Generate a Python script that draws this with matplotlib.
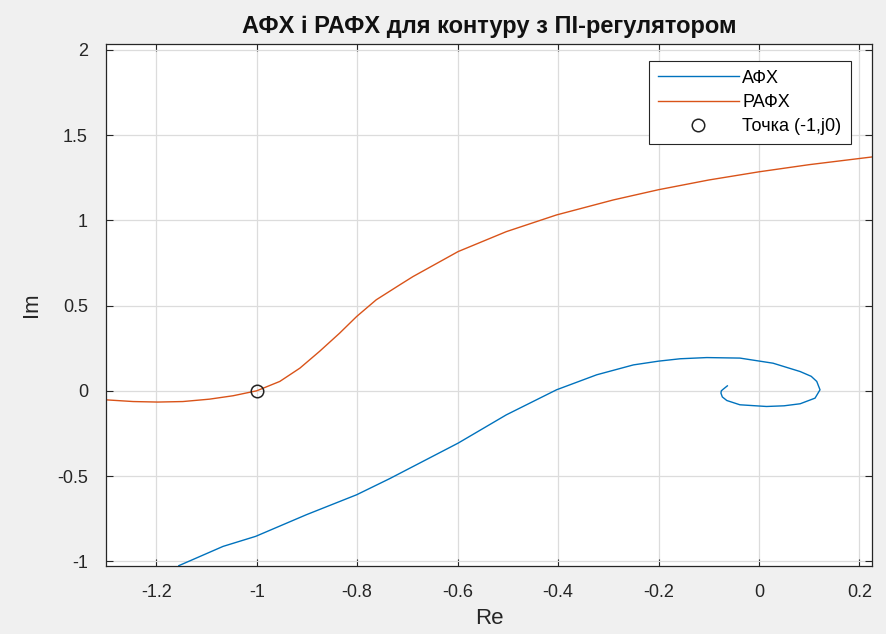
import matplotlib.pyplot as plt
from matplotlib.ticker import FuncFormatter

# AФX (blue) - Re / Im pairs along the hodograph
afh_re = [-1.155, -1.067, -1.002, -0.901, -0.801, -0.735, -0.599, -0.503, -0.403,
          -0.323, -0.250, -0.200, -0.157, -0.104, -0.038, 0.028, 0.082, 0.104, 0.115,
          0.1215, 0.1116, 0.082, 0.050, 0.015, -0.038, -0.064, -0.073, -0.0757,
          -0.075, -0.071, -0.063]
afh_im = [-1.026, -0.913, -0.854, -0.727, -0.610, -0.515, -0.307, -0.141, 0.006,
          0.094, 0.152, 0.174, 0.188, 0.195, 0.192, 0.162, 0.113, 0.085, 0.055,
          0.006, -0.043, -0.076, -0.088, -0.092, -0.082, -0.057, -0.036, -0.0135,
          0.000, 0.010, 0.029]

# РАФХ (orange)
rafh_re = [-1.300, -1.246, -1.197, -1.147, -1.094, -1.047, -1.000, -0.954, -0.914,
           -0.875, -0.835, -0.801, -0.762, -0.715, -0.689, -0.599, -0.503, -0.403,
           -0.290, -0.200, -0.100, 0.000, 0.100, 0.2245]
rafh_im = [-0.053, -0.063, -0.066, -0.063, -0.049, -0.029, 0.000, 0.055, 0.133,
           0.231, 0.338, 0.436, 0.534, 0.622, 0.670, 0.817, 0.934, 1.032,
           1.120, 1.180, 1.237, 1.285, 1.327, 1.372]

# critical point
pt_re = [-1]
pt_im = [0]

xticks = [-1.2, -1.0, -0.8, -0.6, -0.4, -0.2, 0.0, 0.2]
yticks = [-1.0, -0.5, 0.0, 0.5, 1.0, 1.5, 2.0]

blue = '#0072BD'
orange = '#D95319'
axcol = '#262626'

plt.rcParams['font.family'] = ['Liberation Sans', 'DejaVu Sans']

fig = plt.figure(figsize=(8.86, 6.34), dpi=100, facecolor='#f0f0f0')
ax = fig.add_axes([106 / 886, 68 / 634, 766 / 886, 522 / 634])
ax.set_facecolor('white')

ax.plot(afh_re, afh_im, color=blue, lw=1.0, label='АФХ')
ax.plot(rafh_re, rafh_im, color=orange, lw=1.0, label='РАФХ')
ax.plot(pt_re, pt_im, 'o', mfc='none', mec='#222222', mew=1.1, ms=9, label='Точка (-1,j0)')

ax.set_xlim(-1.3, 0.225)
ax.set_ylim(-1.028, 2.035)
ax.set_xticks(xticks)
ax.set_yticks(yticks)
fmt = FuncFormatter(lambda v, p: '%g' % v)
ax.xaxis.set_major_formatter(fmt)
ax.yaxis.set_major_formatter(fmt)

ax.grid(True, color='#dcdcdc', lw=0.9)
ax.set_axisbelow(True)
ax.tick_params(direction='in', top=True, right=True, length=5, width=0.8,
               colors=axcol, labelsize=13)
ax.tick_params(axis='x', pad=13)
ax.tick_params(axis='y', pad=13)
for s in ax.spines.values():
    s.set_color(axcol)
    s.set_linewidth(0.9)

ax.set_xlabel('Re', fontsize=16, color=axcol, labelpad=5)
ax.set_ylabel('Im', fontsize=16, color=axcol, labelpad=11)
ax.set_title('АФХ і РАФХ для контуру з ПІ-регулятором', fontsize=17,
             fontweight='bold', color='#111111', pad=8)

leg = ax.legend(loc='upper right', bbox_to_anchor=(0.972, 0.968), fontsize=13,
                frameon=True, fancybox=False, framealpha=1, edgecolor='#262626',
                handlelength=4.5, handletextpad=0.2, borderpad=0.5,
                labelspacing=0.4, borderaxespad=0)
leg.get_frame().set_linewidth(0.8)

fig.savefig('out.png', dpi=100, facecolor=fig.get_facecolor())
